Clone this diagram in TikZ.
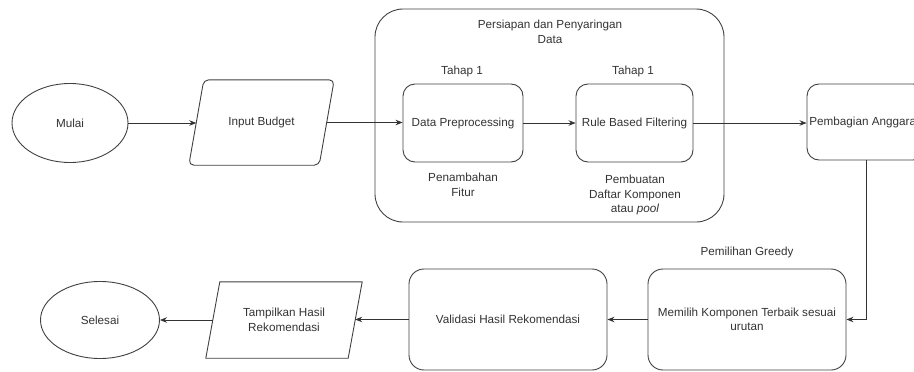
\documentclass[tikz,border=0pt]{standalone}
\usepackage{fontspec}
\setmainfont{Liberation Sans}
\usetikzlibrary{shapes.geometric,arrows.meta}
\tikzset{
  every node/.style={font=\fontsize{11.7}{14.5}\selectfont, text=black!80},
  lineclr/.style={draw=black!75, line width=0.9pt},
  proc/.style={lineclr, rectangle, rounded corners=12pt, inner sep=0pt, align=center},
  term/.style={lineclr, ellipse, inner sep=0pt, align=center},
  iotext/.style={rectangle, inner sep=0pt, align=center},
  iobox/.style={lineclr},
  lbl/.style={align=center, inner sep=0pt},
  arr/.style={draw=black!80, line width=0.9pt, -{Stealth[length=7pt,width=5.5pt]}}
}
\begin{document}
\begin{tikzpicture}[x=1pt,y=-1pt]
\useasboundingbox (0,0) rectangle (914,372);
\clip (0,0) rectangle (914,372);
% container
\node[proc, rounded corners=28pt, minimum width=349pt, minimum height=213pt] (grp) at (549.5,115.5) {};
\node[lbl] (grpt) at (550,32) {Persiapan dan Penyaringan\\Data};
% top row
\node[term, minimum width=116pt, minimum height=79pt] (mulai) at (70,123) {Mulai};
\node[iotext, minimum width=130pt, minimum height=85pt] (ib) at (261.5,122.5) {Input Budget};
\draw[iobox, rounded corners=5pt] ([xshift=7.5pt]ib.north west) -- ([xshift=7.5pt]ib.north east) -- ([xshift=-7.5pt]ib.south east) -- ([xshift=-7.5pt]ib.south west) -- cycle;
\node[proc, minimum width=120pt, minimum height=78pt] (dp) at (463,123) {Data Preprocessing};
\node[proc, minimum width=117pt, minimum height=78pt] (rbf) at (634.5,123) {Rule Based Filtering};
\node[proc, minimum width=118pt, minimum height=76pt] (pa) at (866,122) {Pembagian Anggaran};
\node[lbl] (t1) at (462,71) {Tahap 1};
\node[lbl] (t2) at (633,71) {Tahap 1};
\node[lbl] (pf) at (463,185) {Penambahan\\Fitur};
\node[lbl] (pd) at (635,195) {Pembuatan\\Daftar Komponen\\atau \textit{pool}};
% bottom row
\node[proc, rounded corners=15pt, minimum width=198pt, minimum height=101pt] (mk) at (747,319.5) {Memilih Komponen Terbaik sesuai\\urutan};
\node[lbl] (pg) at (747,252) {Pemilihan Greedy};
\node[proc, rounded corners=15pt, minimum width=198pt, minimum height=101pt] (val) at (508,319.5) {Validasi Hasil Rekomendasi};
\node[iotext, minimum width=142pt, minimum height=76pt] (tamp) at (284,320) {Tampilkan Hasil\\Rekomendasi};
\draw[iobox] ([xshift=7pt]tamp.north west) -- ([xshift=7pt]tamp.north east) -- ([xshift=-7pt]tamp.south east) -- ([xshift=-7pt]tamp.south west) -- cycle;
\node[term, minimum width=119pt, minimum height=77pt] (sel) at (100,320) {Selesai};
% connectors
\draw[arr] (mulai.east) -- (mulai.east -| ib.west);
\draw[arr] (ib.east) -- (ib.east -| dp.west);
\draw[arr] (dp) -- (rbf);
\draw[arr] (rbf.east) -- (rbf.east -| pa.west);
\draw[arr] (pa.south) |- (mk.east);
\draw[arr] (mk) -- (val);
\draw[arr] (val.west) -- (val.west -| tamp.east);
\draw[arr] (tamp.west) -- (tamp.west -| sel.east);
\end{tikzpicture}
\end{document}
